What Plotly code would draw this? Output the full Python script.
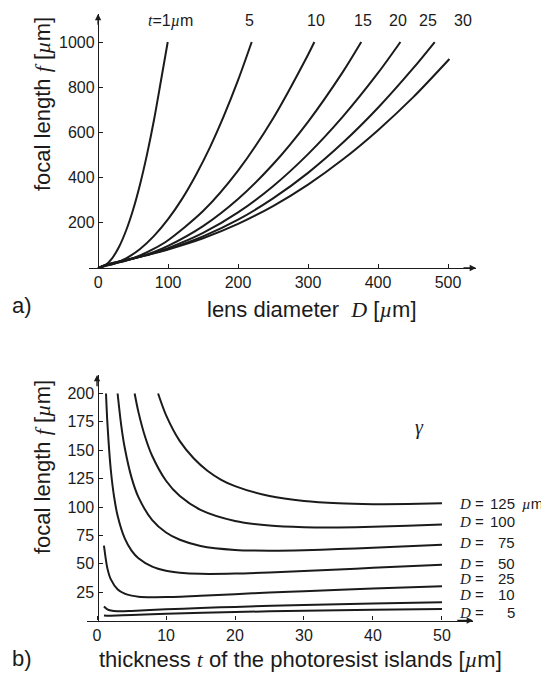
import plotly.graph_objects as go

# ---------------- data: panel a (focal length vs lens diameter, one curve per resist thickness t)
a_thickness_labels = ["1", "5", "10", "15", "20", "25", "30"]
a_D_t1 = [0, 10, 20, 30, 40, 50, 60, 70, 80, 90, 99.5]
a_f_t1 = [0, 12, 43, 94, 166, 258, 371, 504, 657, 832, 1000]
a_D_t5 = [0, 10, 20, 40, 60, 80, 100, 120, 140, 160, 180, 200, 219.5]
a_f_t5 = [0, 8.5, 16.7, 42.8, 84.2, 142, 216, 306, 413, 535, 675, 831, 1000]
a_D_t10 = [0, 10, 20, 40, 60, 80, 100, 150, 200, 250, 300, 309]
a_f_t10 = [0, 9.8, 16.9, 33.5, 55.9, 85.6, 123, 252, 431, 662, 944, 1000]
a_D_t15 = [0, 10, 20, 40, 60, 80, 100, 150, 200, 250, 300, 350, 376]
a_f_t15 = [0, 11, 18.3, 32.9, 50.2, 71.5, 97.5, 185, 305, 459, 647, 869, 1000]
a_D_t20 = [0, 10, 20, 40, 60, 80, 100, 150, 200, 250, 300, 350, 400, 432]
a_f_t20 = [0, 12, 19.6, 33.8, 49.2, 66.9, 87.7, 155, 246, 362, 504, 671, 863, 1000]
a_D_t25 = [0, 10, 20, 40, 60, 80, 100, 150, 200, 250, 300, 350, 400, 450, 481]
a_f_t25 = [0, 12.9, 20.9, 35.2, 49.7, 65.6, 83.6, 140, 214, 308, 421, 555, 709, 883, 1000]
a_D_t30 = [0, 10, 20, 40, 60, 80, 100, 150, 200, 250, 300, 350, 400, 450, 502]
a_f_t30 = [0, 13.7, 22, 36.6, 50.8, 65.8, 82.2, 131.5, 195, 274, 369, 481, 610, 755, 925]
a_label_D = [104, 217, 311, 379, 429, 471, 521]
a_x_ticks = [0, 100, 200, 300, 400, 500]
a_y_ticks = [200, 400, 600, 800, 1000]

# ---------------- data: panel b (focal length vs thickness, one curve per diameter D)
b_diam_labels = ["125", "100", "75", "50", "25", "10", "5"]
b_t_D125 = [8.85, 10, 12, 14, 16, 18, 20, 25, 30, 35, 40, 45, 50]
b_f_D125 = [200, 181, 158, 143, 132, 124, 118.4, 109.6, 105.2, 103.2, 102.5, 102.6, 103.2]
b_t_D100 = [5.45, 6, 7, 8, 10, 12, 15, 20, 25, 30, 35, 40, 45, 50]
b_f_D100 = [200, 183.6, 161.2, 144.9, 123.1, 109.6, 97.5, 87.7, 83.6, 82.2, 82.0, 82.5, 83.5, 84.6]
b_t_D75 = [2.98, 3.5, 4, 5, 6, 8, 10, 12, 15, 20, 25, 30, 35, 40, 45, 50]
b_f_D75 = [200, 172.2, 152.6, 125.9, 108.7, 88.4, 77.5, 71.1, 65.7, 62.2, 61.5, 61.9, 62.9, 64.1, 65.4, 66.8]
b_t_D50 = [1.3, 1.5, 2, 2.5, 3, 4, 5, 6, 8, 10, 12, 15, 20, 25, 30, 35, 40, 45, 50]
b_f_D50 = [200, 174.1, 132.4, 107.9, 91.8, 72.5, 61.5, 54.8, 47.4, 43.8, 42.1, 41.1, 41.3, 42.3, 43.6, 45.0, 46.4, 47.8, 49.1]
b_t_D25 = [1, 1.5, 2, 3, 4, 5, 6, 8, 10, 15, 20, 25, 30, 40, 50]
b_f_D25 = [66, 45.9, 36.2, 27.4, 23.7, 21.9, 21.0, 20.5, 20.6, 21.8, 23.2, 24.6, 25.8, 28.1, 30.1]
b_t_D10 = [1, 1.5, 2, 3, 5, 10, 15, 20, 30, 40, 50]
b_f_D10 = [12.3, 9.75, 8.8, 8.2, 8.46, 9.84, 11.0, 12.0, 13.7, 15.0, 16.1]
b_t_D5 = [1, 1.67, 2, 5, 10, 20, 30, 40, 50]
b_f_D5 = [4.4, 4.1, 4.13, 4.9, 6.0, 7.5, 8.55, 9.4, 10.1]
b_label_f = [103.5, 87, 68.5, 50.4, 37.2, 22.5, 6.9]
b_x_ticks = [0, 10, 20, 30, 40, 50]
b_y_ticks = [25, 50, 75, 100, 125, 150, 175, 200]

# ---------------- styling
PAGE_W, PAGE_H = 549, 675
OFF = 8                      # default body margin of the html page
W, H = PAGE_W - OFF, PAGE_H - OFF
INK = "#1b1b1b"
SANS = "Liberation Sans, Arial, sans-serif"
SERIF = "Liberation Serif"


def it(s):
    return f"<i><span style='font-family:{SERIF}'>{s}</span></i>"


def px(x):
    return (x - OFF) / W


def py(y):
    return 1 - (y - OFF) / H


fig = go.Figure()

a_series = [(a_D_t1, a_f_t1), (a_D_t5, a_f_t5), (a_D_t10, a_f_t10), (a_D_t15, a_f_t15),
            (a_D_t20, a_f_t20), (a_D_t25, a_f_t25), (a_D_t30, a_f_t30)]
for xs, ys in a_series:
    fig.add_trace(go.Scatter(x=xs, y=ys, mode="lines", xaxis="x", yaxis="y",
                             line=dict(color=INK, width=2, shape="spline", smoothing=0.8),
                             hoverinfo="skip", showlegend=False))

b_series = [(b_t_D125, b_f_D125), (b_t_D100, b_f_D100), (b_t_D75, b_f_D75), (b_t_D50, b_f_D50),
            (b_t_D25, b_f_D25), (b_t_D10, b_f_D10), (b_t_D5, b_f_D5)]
for xs, ys in b_series:
    fig.add_trace(go.Scatter(x=xs, y=ys, mode="lines", xaxis="x2", yaxis="y2",
                             line=dict(color=INK, width=2, shape="spline", smoothing=0.8),
                             hoverinfo="skip", showlegend=False))

axis_common = dict(showgrid=False, zeroline=False, showline=True, linecolor=INK, linewidth=1.4,
                   ticks="inside", ticklen=4, tickwidth=1.2, tickcolor=INK,
                   tickfont=dict(family=SANS, size=16, color=INK), fixedrange=True)

fig.update_layout(
    width=W, height=H, margin=dict(l=0, r=0, t=0, b=0),
    paper_bgcolor="white", plot_bgcolor="white",
    xaxis=dict(domain=[px(89), px(476)], range=[-13, 540], anchor="y",
               tickvals=a_x_ticks, **axis_common),
    yaxis=dict(domain=[py(268), py(14)], range=[0, 1124], anchor="free", position=px(98),
               tickvals=a_y_ticks, **axis_common),
    xaxis2=dict(domain=[px(86.7), px(473)], range=[-1.5, 54.5], anchor="y2",
                tickvals=b_x_ticks, **axis_common),
    yaxis2=dict(domain=[py(620.5), py(375)], range=[0, 216.3], anchor="free", position=px(97.5),
                tickvals=b_y_ticks, **axis_common),
)

ann = []
# axis arrowheads
for xr, yr, x, y, ax, ay in [("x", "y", 540, 0, 520, 0), ("x", "y", 0, 1124, 0, 1070),
                             ("x2", "y2", 54.5, 0, 52, 0), ("x2", "y2", 0, 216.3, 0, 205)]:
    ann.append(dict(xref=xr, yref=yr, axref=xr, ayref=yr, x=x, y=y, ax=ax, ay=ay, text="",
                    showarrow=True, arrowhead=2, arrowsize=0.9, arrowwidth=1.4, arrowcolor=INK))

# panel a curve labels
for i, (lab, xd) in enumerate(zip(a_thickness_labels, a_label_D)):
    txt = f"{it('t')}={lab}{it('µ')}m" if i == 0 else lab
    ann.append(dict(xref="x", yref="y", x=xd, y=1094, text=txt, showarrow=False,
                    xanchor="center", yanchor="middle",
                    font=dict(family=SANS, size=16, color=INK)))

# panel b curve labels
lab_font = dict(family=SANS, size=15, color=INK)
for i, (lab, yd) in enumerate(zip(b_diam_labels, b_label_f)):
    ann.append(dict(xref="paper", yref="y2", x=px(457), y=yd, xanchor="left", yanchor="middle",
                    text=f"{it('D')} =", showarrow=False, font=lab_font))
    ann.append(dict(xref="paper", yref="y2", x=px(517), y=yd, xanchor="right", yanchor="middle",
                    text=lab, showarrow=False, font=lab_font))
    if i == 0:
        ann.append(dict(xref="paper", yref="y2", x=px(520), y=yd, xanchor="left", yanchor="middle",
                        text=f"{it('µ')}m", showarrow=False, font=lab_font))

title_font = dict(family=SANS, size=22, color=INK)
centered = dict(xref="paper", yref="paper", xanchor="center", yanchor="middle", showarrow=False)
ann += [
    dict(x=px(312), y=py(309), text=f"lens diameter  {it('D')} [{it('µ')}m]", font=title_font, **centered),
    dict(x=px(43), y=py(104), text=f"focal length {it('f')} [{it('µ')}m]", textangle=-90,
         font=title_font, **centered),
    dict(x=px(300), y=py(659), text=f"thickness {it('t')} of the photoresist islands [{it('µ')}m]",
         font=title_font, **centered),
    dict(x=px(43), y=py(467), text=f"focal length {it('f')} [{it('µ')}m]", textangle=-90,
         font=title_font, **centered),
    dict(x=px(22), y=py(305), text="a)", font=title_font, **centered),
    dict(x=px(22), y=py(658), text="b)", font=title_font, **centered),
    dict(x=px(419), y=py(427), text=it("γ"), font=dict(family=SERIF, size=20, color=INK), **centered),
]
fig.update_layout(annotations=ann)

fig.write_html("out.html")
